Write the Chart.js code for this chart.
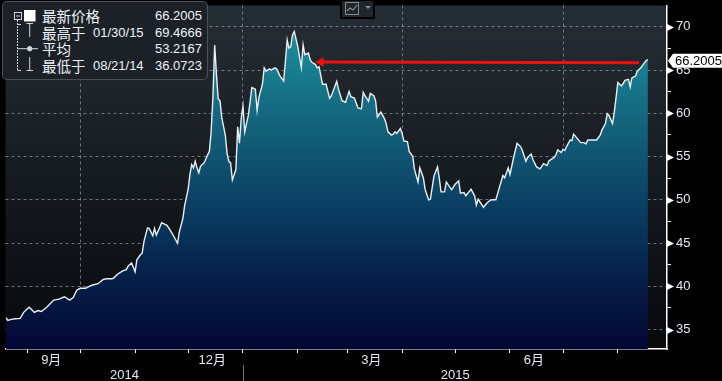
<!DOCTYPE html>
<html><head><meta charset="utf-8">
<script src="https://cdn.jsdelivr.net/npm/chart.js@4.4.0/dist/chart.umd.min.js"></script>
<style>
html,body{margin:0;padding:0;background:#000;}
#wrap{position:relative;width:722px;height:381px;overflow:hidden;background:#000;}
#c{position:absolute;left:0;top:0;}
#legend{position:absolute;left:2px;top:1px;width:206px;height:79px;box-sizing:border-box;background:#1b2127;border:1px solid #4b5157;border-radius:5px;color:#eef3fb;font-family:"Liberation Sans",Arial,"Noto Sans CJK SC",sans-serif;font-size:13px;}
#legend svg{position:absolute;left:0;top:0;}
.row{position:absolute;left:0;width:100%;height:16px;line-height:16px;white-space:nowrap;}
.lab{position:absolute;left:39px;font-family:"Noto Sans CJK SC",sans-serif;font-size:14.5px;}
.dt{position:absolute;left:90px;}
.val{position:absolute;right:5px;}
#tool{position:absolute;left:340px;top:0px;}
</style>
</head><body>
<div id="wrap">
<canvas id="c" width="722" height="381"></canvas>
<div id="legend">
<svg width="204" height="77" viewBox="0 0 204 77">
 <g stroke="#d3d7db" stroke-width="1" fill="none">
  <rect x="11.5" y="10.5" width="7" height="7"/>
  <line x1="13" y1="14" x2="17" y2="14"/>
  <line x1="14.5" y1="18" x2="14.5" y2="68" stroke-dasharray="2,1"/>
  <line x1="14.5" y1="22.5" x2="18" y2="22.5"/>
  <line x1="14.5" y1="68.5" x2="18" y2="68.5"/>
  <line x1="23.5" y1="21.5" x2="30" y2="21.5"/>
  <line x1="26.7" y1="21.5" x2="26.7" y2="35"/>
  <line x1="14.5" y1="46.7" x2="35" y2="46.7"/>
  <circle cx="26.7" cy="46.7" r="2.3" fill="#d3d7db"/>
  <line x1="26.7" y1="55" x2="26.7" y2="68"/>
  <line x1="23.5" y1="68.5" x2="30" y2="68.5"/>
 </g>
 <rect x="21" y="8" width="11.5" height="11.5" fill="#ffffff"/>
</svg>
<div class="row" style="top:6px"><span class="lab" id="l0"></span><span class="dt" id="d0"></span><span class="val" id="v0"></span></div>
<div class="row" style="top:23px"><span class="lab" id="l1"></span><span class="dt" id="d1"></span><span class="val" id="v1"></span></div>
<div class="row" style="top:39px"><span class="lab" id="l2"></span><span class="dt" id="d2"></span><span class="val" id="v2"></span></div>
<div class="row" style="top:56px"><span class="lab" id="l3"></span><span class="dt" id="d3"></span><span class="val" id="v3"></span></div>
</div>
<svg id="tool" width="36" height="20" viewBox="0 0 36 20">
 <rect x="1" y="0" width="33" height="18" fill="#1f262c" stroke="#000" stroke-width="2"/>
 <rect x="5.5" y="2.5" width="13" height="12" fill="none" stroke="#8a8f94" stroke-width="1"/>
 <polyline points="7,11 10,8 13,10 17,5" fill="none" stroke="#8a8f94" stroke-width="1.2"/>
 <polygon points="25,6 31,6 28,9" fill="#8a8f94"/>
</svg>
</div>
<script>
// ---------- data ----------
const dates = [
'2014-08-20','2014-08-21','2014-08-23','2014-08-25','2014-08-28','2014-08-30','2014-09-02','2014-09-03','2014-09-05','2014-09-07',
'2014-09-09','2014-09-12','2014-09-16','2014-09-19','2014-09-22','2014-09-25','2014-09-27','2014-09-29','2014-10-01','2014-10-04',
'2014-10-06','2014-10-08','2014-10-11','2014-10-14','2014-10-16','2014-10-19','2014-10-20','2014-10-22','2014-10-25','2014-10-27',
'2014-10-28','2014-10-30','2014-11-01','2014-11-02','2014-11-04','2014-11-05','2014-11-06','2014-11-08','2014-11-09','2014-11-11',
'2014-11-12','2014-11-13','2014-11-15','2014-11-16','2014-11-19','2014-11-20','2014-11-22','2014-11-25','2014-11-26','2014-11-28',
'2014-11-29','2014-12-01','2014-12-02','2014-12-03','2014-12-04','2014-12-05','2014-12-06','2014-12-07','2014-12-08','2014-12-10',
'2014-12-12','2014-12-13','2014-12-14','2014-12-15','2014-12-16','2014-12-17','2014-12-18','2014-12-19','2014-12-20','2014-12-22',
'2014-12-23','2014-12-24','2014-12-25','2014-12-26','2014-12-28','2014-12-29','2014-12-30','2014-12-31','2015-01-01','2015-01-02',
'2015-01-04','2015-01-05','2015-01-06','2015-01-08','2015-01-09','2015-01-10','2015-01-12','2015-01-13','2015-01-14','2015-01-16',
'2015-01-17','2015-01-19','2015-01-20','2015-01-22','2015-01-24','2015-01-25','2015-01-26','2015-01-27','2015-01-28','2015-01-29',
'2015-01-30','2015-02-01','2015-02-03','2015-02-04','2015-02-05','2015-02-07','2015-02-08','2015-02-09','2015-02-11','2015-02-12',
'2015-02-13','2015-02-15','2015-02-17','2015-02-19','2015-02-20','2015-02-23','2015-02-24','2015-02-26','2015-02-28','2015-03-02',
'2015-03-03','2015-03-05','2015-03-07','2015-03-09','2015-03-10','2015-03-11','2015-03-13','2015-03-14','2015-03-16','2015-03-17',
'2015-03-18','2015-03-20','2015-03-22','2015-03-23','2015-03-24','2015-03-26','2015-03-27','2015-03-28','2015-03-29','2015-03-31',
'2015-04-01','2015-04-02','2015-04-04','2015-04-05','2015-04-07','2015-04-08','2015-04-10','2015-04-11','2015-04-13','2015-04-14',
'2015-04-16','2015-04-17','2015-04-19','2015-04-21','2015-04-22','2015-04-23','2015-04-25','2015-04-26','2015-04-29','2015-05-01',
'2015-05-03','2015-05-04','2015-05-06','2015-05-07','2015-05-10','2015-05-12','2015-05-13','2015-05-14','2015-05-17','2015-05-19',
'2015-05-21','2015-05-23','2015-05-24','2015-05-26','2015-05-28','2015-05-29','2015-05-31','2015-06-01','2015-06-03','2015-06-05',
'2015-06-07','2015-06-08','2015-06-10','2015-06-11','2015-06-13','2015-06-14','2015-06-16','2015-06-18','2015-06-20','2015-06-22',
'2015-06-23','2015-06-26','2015-06-27','2015-06-28','2015-06-30','2015-07-01','2015-07-02','2015-07-03','2015-07-05','2015-07-06',
'2015-07-07','2015-07-09','2015-07-11','2015-07-13','2015-07-14','2015-07-15','2015-07-18','2015-07-20','2015-07-22','2015-07-23',
'2015-07-25','2015-07-26','2015-07-27','2015-07-29','2015-07-30','2015-07-31','2015-08-01','2015-08-03','2015-08-04','2015-08-05',
'2015-08-07','2015-08-08','2015-08-09','2015-08-11','2015-08-12','2015-08-14','2015-08-16','2015-08-17','2015-08-18'
];
const prices = [
36.40,36.0723,36.18,36.26,36.30,37.00,37.58,37.40,37.00,37.20,
37.10,37.58,38.42,38.53,38.80,38.42,38.71,39.56,39.78,39.78,
40.00,40.16,40.31,40.80,40.90,40.88,40.99,41.40,41.80,41.94,
42.32,42.70,41.67,43.08,43.65,43.83,45.17,46.76,46.68,45.85,
46.68,45.93,46.87,47.36,47.06,46.76,46.11,44.97,46.30,47.82,
49.34,51.23,52.94,54.07,53.70,54.46,53.70,53.13,53.89,54.27,
55.21,55.60,57.87,61.85,67.90,64.50,61.66,61.47,59.50,57.50,
55.40,54.46,54.27,52.30,53.50,58.44,56.54,59.39,60.83,57.87,
59.76,61.28,62.99,62.80,60.33,61.85,63.37,65.27,64.88,65.15,
65.00,65.27,65.15,64.31,63.74,66.02,68.49,67.54,67.72,69.06,
69.4666,67.72,65.27,67.92,66.78,66.97,66.21,65.90,65.64,65.27,
65.38,63.37,63.37,61.74,62.04,63.70,62.80,61.47,61.29,62.54,
61.92,61.77,60.64,60.52,62.42,62.04,61.40,62.31,62.04,61.47,
59.58,60.15,59.39,58.82,57.87,57.49,57.60,57.87,57.68,58.25,
57.68,56.80,56.73,55.60,55.03,53.50,52.07,53.70,52.56,51.23,
49.98,50.09,52.75,53.81,52.56,50.93,50.93,52.07,51.16,51.80,
52.18,50.77,50.85,50.47,51.23,50.47,49.41,50.09,49.15,49.64,
49.98,50.02,50.02,51.42,52.82,52.56,53.70,52.94,54.84,56.54,
56.16,55.71,54.46,54.91,55.29,54.64,53.81,53.59,54.19,53.96,
54.50,54.91,55.21,55.78,55.48,55.86,55.71,56.16,56.92,56.85,
57.60,57.11,56.62,56.62,56.46,56.92,56.92,56.92,57.49,58.06,
58.82,59.96,59.76,58.82,60.15,61.85,63.56,63.17,63.45,63.82,
63.94,63.06,64.13,64.31,64.88,65.27,65.84,66.10,66.2005
];
// red annotation arrow (user drawn)
const arrowDates = ['2015-02-14','2015-08-13'];
const arrowValues = [65.95, 65.85];

// legend statistics
const statLabels = ['最新价格','最高于','平均','最低于'];
const statDates  = ['','01/30/15','','08/21/14'];
const statValues = [66.2005, 69.4666, 53.2167, 36.0723];

// axes
const xRange = ['2014-08-20','2015-08-28'];
const yRange = [32.76, 72.47];
const yTickValues = [35,37.5,40,42.5,45,47.5,50,52.5,55,57.5,60,62.5,65,67.5,70];
const monthTickDates = ['2014-09-01','2014-10-01','2014-11-01','2014-12-01','2015-01-01','2015-02-01',
                        '2015-03-01','2015-04-01','2015-05-01','2015-06-01','2015-07-01','2015-08-01'];
const monthTickLabels = ['9月','','','12月','','','3月','','','6月','',''];
const gridMonthDates = ['2014-10-01','2015-01-01','2015-04-01','2015-07-01'];
const yearLabels = ['2014','2015'];
const yearStart = '2015-01-01';

// ---------- helpers ----------
const dayNum = s => { const p = s.split('-').map(Number); return (Date.UTC(p[0],p[1]-1,p[2]) - Date.UTC(2015,0,1))/86400000; };
const gridDays = gridMonthDates.map(dayNum);
const FONT = '"Liberation Sans", Arial, "Noto Sans CJK SC", sans-serif';
const TXT = '#e2eaf6';

// legend text
statLabels.forEach((l,i)=>{
  document.getElementById('l'+i).textContent = l;
  document.getElementById('d'+i).textContent = statDates[i];
  document.getElementById('v'+i).textContent = statValues[i].toFixed(4);
});

const chrome = {
  id: 'chrome',
  beforeDraw(chart) {
    const {ctx, chartArea: a} = chart;
    ctx.save();
    ctx.fillStyle = '#000';
    ctx.fillRect(0, 0, chart.width, chart.height);
    const g = ctx.createLinearGradient(0, a.top, 0, a.bottom);
    g.addColorStop(0, '#252d34');
    g.addColorStop(0.5, '#161b20');
    g.addColorStop(1, '#07090b');
    ctx.fillStyle = g;
    ctx.fillRect(a.left, a.top, a.right - a.left, a.bottom - a.top);
    ctx.restore();
  },
  afterDraw(chart) {
    const {ctx, chartArea: a, scales: {x, y}} = chart;
    ctx.save();
    // major tick markers on value axis
    ctx.fillStyle = '#ffffff';
    y.ticks.forEach(t => {
      if (t.value % 5 === 0) {
        const py = Math.round(y.getPixelForValue(t.value)) + 0.5;
        ctx.beginPath();
        ctx.moveTo(a.right, py - 3.5);
        ctx.lineTo(a.right + 7, py);
        ctx.lineTo(a.right, py + 3.5);
        ctx.closePath();
        ctx.fill();
      }
    });
    // year labels + separator
    const jan = Math.round(x.getPixelForValue(dayNum(yearStart))) + 0.5;
    ctx.strokeStyle = '#6d6f72';
    ctx.lineWidth = 1;
    ctx.beginPath();
    ctx.moveTo(jan, x.top + 16);
    ctx.lineTo(jan, chart.height);
    ctx.stroke();
    ctx.fillStyle = TXT;
    ctx.font = '13px ' + FONT;
    ctx.textAlign = 'center';
    ctx.textBaseline = 'middle';
    ctx.fillText(yearLabels[0], (a.left + jan) / 2, x.top + 26);
    ctx.fillText(yearLabels[1], (jan + a.right) / 2, x.top + 26);
    // last value tag
    const lv = prices[prices.length - 1];
    const py = y.getPixelForValue(lv) + 1;
    ctx.fillStyle = '#ffffff';
    ctx.beginPath();
    ctx.moveTo(a.right + 1, py);
    ctx.lineTo(a.right + 6, py - 7);
    ctx.lineTo(chart.width, py - 7);
    ctx.lineTo(chart.width, py + 7);
    ctx.lineTo(a.right + 6, py + 7);
    ctx.closePath();
    ctx.fill();
    ctx.fillStyle = '#000';
    ctx.textAlign = 'left';
    ctx.fillText(lv.toFixed(4), a.right + 8, py + 0.5);
    ctx.restore();
  }
};

const fillGradient = (c) => {
  const {chart} = c;
  const a = chart.chartArea;
  if (!a) return 'rgba(0,0,0,0)';
  const g = chart.ctx.createLinearGradient(0, a.top, 0, a.bottom);
  g.addColorStop(0, '#1f97a8');
  g.addColorStop(0.15, '#1a8395');
  g.addColorStop(0.35, '#13627a');
  g.addColorStop(0.6, '#0a3c61');
  g.addColorStop(0.8, '#061f48');
  g.addColorStop(1, '#030634');
  return g;
};

new Chart(document.getElementById('c'), {
  type: 'line',
  data: {
    datasets: [
      {
        data: dates.map((d, i) => ({x: dayNum(d), y: prices[i]})),
        borderColor: '#eaeff3',
        borderWidth: 1.4,
        backgroundColor: fillGradient,
        fill: 'start',
        pointRadius: 0,
        tension: 0,
        order: 2
      },
      {
        data: arrowDates.map((d, i) => ({x: dayNum(d), y: arrowValues[i]})),
        borderColor: '#ee1111',
        backgroundColor: '#ee1111',
        borderWidth: 3,
        fill: false,
        pointStyle: 'triangle',
        pointRotation: -90,
        pointRadius: [5.5, 0],
        pointBorderWidth: 0,
        tension: 0,
        order: 1
      }
    ]
  },
  options: {
    responsive: false,
    animation: false,
    devicePixelRatio: 1,
    layout: {padding: {left: 3, right: 0, top: 0, bottom: 0}},
    plugins: {legend: {display: false}, tooltip: {enabled: false}},
    scales: {
      x: {
        type: 'linear',
        position: 'bottom',
        z: 1,
        min: dayNum(xRange[0]) - 0.3,
        max: dayNum(xRange[1]) + 0.8,
        afterBuildTicks: s => { s.ticks = monthTickDates.map(d => ({value: dayNum(d)})); },
        afterFit: s => { s.height = 32; s.paddingLeft = 0; s.paddingRight = 0; },
        ticks: {
          autoSkip: false, maxRotation: 0, minRotation: 0,
          callback: (v, i) => monthTickLabels[i],
          color: TXT, font: {family: FONT, size: 13},
          labelOffset: 24, padding: 0
        },
        grid: {
          color: c => (c.tick && gridDays.includes(c.tick.value)) ? 'rgba(165,178,188,0.6)' : 'rgba(0,0,0,0)',
          lineWidth: 1,
          tickColor: '#ffffff',
          tickLength: 4,
          drawTicks: true
        },
        border: {display: true, color: '#ffffff', width: 1.5, dash: [3, 3]}
      },
      y: {
        type: 'linear',
        position: 'right',
        z: 1,
        min: yRange[0],
        max: yRange[1],
        afterBuildTicks: s => { s.ticks = yTickValues.map(v => ({value: v})); },
        afterFit: s => { s.width = 55; s.paddingTop = 0; s.paddingBottom = 0; },
        ticks: {
          autoSkip: false,
          callback: v => (v % 5 === 0 ? String(v) : ''),
          color: TXT, font: {family: FONT, size: 13},
          padding: 5
        },
        grid: {
          color: c => (c.tick && c.tick.value % 5 === 0) ? 'rgba(165,178,188,0.6)' : 'rgba(0,0,0,0)',
          lineWidth: 1,
          tickColor: '#ffffff',
          tickLength: 4
        },
        border: {display: true, color: '#ffffff', width: 1.5, dash: [3, 3]}
      }
    }
  },
  plugins: [chrome]
});
</script>
</body></html>
